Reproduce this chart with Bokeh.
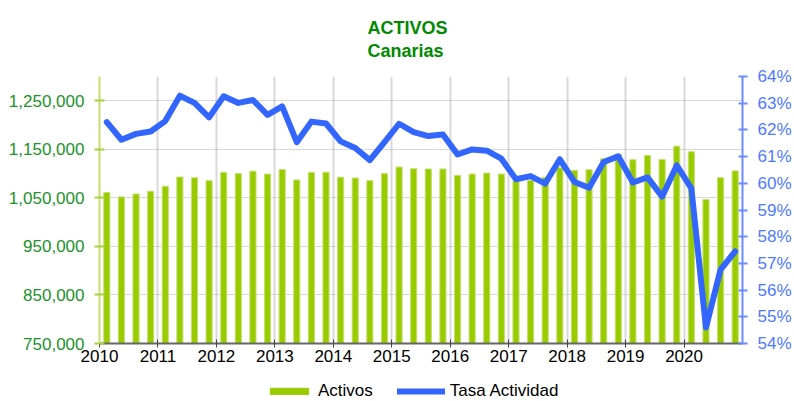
from bokeh.plotting import figure
from bokeh.layouts import column
from bokeh.models import (Range1d, LinearAxis, FixedTicker, NumeralTickFormatter,
                          PrintfTickFormatter, Legend, LegendItem, Title, ColumnDataSource)
from bokeh.embed import file_html
from bokeh.resources import INLINE

# ---- data -------------------------------------------------------------
years = [2010, 2011, 2012, 2013, 2014, 2015, 2016, 2017, 2018, 2019, 2020]
quarters = [1, 2, 3, 4]

activos = [
    1061000, 1052000, 1058000, 1063500,   # 2010
    1074000, 1093000, 1091500, 1085500,   # 2011
    1102500, 1100000, 1105000, 1099000,   # 2012
    1108500, 1087000, 1102500, 1103000,   # 2013
    1092500, 1091000, 1085500, 1100000,   # 2014
    1113500, 1110000, 1109500, 1109500,   # 2015
    1096000, 1099000, 1101000, 1099000,   # 2016
    1085000, 1086000, 1092500, 1112000,   # 2017
    1106500, 1108000, 1130500, 1140000,   # 2018
    1128500, 1137500, 1129000, 1156500,   # 2019
    1145000, 1046500, 1091500, 1105500,   # 2020
]

tasa_actividad = [
    62.29, 61.63, 61.85, 61.94,   # 2010
    62.33, 63.28, 63.01, 62.47,   # 2011
    63.26, 63.01, 63.12, 62.56,   # 2012
    62.88, 61.54, 62.31, 62.24,   # 2013
    61.57, 61.32, 60.87, 61.54,   # 2014
    62.23, 61.92, 61.77, 61.83,   # 2015
    61.08, 61.27, 61.22, 60.92,   # 2016
    60.15, 60.27, 59.99, 60.90,   # 2017
    60.05, 59.83, 60.80, 61.01,   # 2018
    60.03, 60.22, 59.50, 60.67,   # 2019
    59.81, 54.60, 56.77, 57.45,   # 2020
]

left_ticks = [750000, 850000, 950000, 1050000, 1150000, 1250000]
right_ticks = [54, 55, 56, 57, 58, 59, 60, 61, 62, 63, 64]

# ---- layout helpers ---------------------------------------------------
x = [y + (q - 0.5) / 4 for y in years for q in quarters]
src = ColumnDataSource(dict(x=x, activos=activos, tasa=tasa_actividad))

FONT = "Liberation Sans"
BAR_FILL = "#99cc00"
BAR_EDGE = "#c4e070"
LINE_COL = "#3366ff"

p = figure(width=794, height=368, output_backend="svg", toolbar_location=None,
           x_range=Range1d(2010, 2021), y_range=Range1d(750000, 1300000),
           min_border_left=99, min_border_right=49, min_border_top=74,
           min_border_bottom=25, title=None)
p.outline_line_color = None
p.background_fill_color = "white"
p.border_fill_color = "white"

p.extra_y_ranges = {"rate": Range1d(54, 64)}

# grids
p.xgrid.ticker = FixedTicker(ticks=years[1:])
p.xgrid.grid_line_color = "#d9d9d9"
p.xgrid.grid_line_width = 2
p.ygrid.ticker = FixedTicker(ticks=left_ticks[1:])
p.ygrid.grid_line_color = "#b0b0b0"
p.ygrid.grid_line_dash = "1 1"
p.ygrid.grid_line_width = 1

bars = p.vbar(x="x", top="activos", bottom=750000, width=0.105, source=src,
              fill_color=BAR_FILL, line_color=BAR_EDGE, line_width=1)
line = p.line(x="x", y="tasa", source=src, y_range_name="rate",
              line_color=LINE_COL, line_width=6, line_join="round", line_cap="round")

# x axis
xa = p.xaxis[0]
xa.ticker = FixedTicker(ticks=years)
xa.axis_line_color = "#666666"
xa.axis_line_width = 2
xa.major_tick_line_color = "#444444"
xa.major_tick_in = 4
xa.major_tick_out = 4
xa.minor_tick_line_color = None
xa.major_label_text_font = FONT
xa.major_label_text_font_size = "17px"
xa.major_label_text_color = "#000000"
xa.major_label_standoff = 2

# left axis
ya = p.yaxis[0]
ya.ticker = FixedTicker(ticks=left_ticks)
ya.formatter = NumeralTickFormatter(format="0,0")
ya.axis_line_color = "#c4e070"
ya.axis_line_width = 2
ya.major_tick_line_color = "#a8d040"
ya.major_tick_line_width = 2
ya.major_tick_in = 5
ya.major_tick_out = 5
ya.minor_tick_line_color = None
ya.major_label_text_font = FONT
ya.major_label_text_font_size = "17px"
ya.major_label_text_color = "#22922a"
ya.major_label_standoff = 10

# right axis
ra = LinearAxis(y_range_name="rate", ticker=FixedTicker(ticks=right_ticks),
                formatter=PrintfTickFormatter(format="%d%%"))
ra.axis_line_color = "#6b8cff"
ra.axis_line_width = 2
ra.major_tick_line_color = "#6b8cff"
ra.major_tick_line_width = 2
ra.major_tick_in = 4
ra.major_tick_out = 5
ra.minor_tick_line_color = None
ra.major_label_text_font = FONT
ra.major_label_text_font_size = "17px"
ra.major_label_text_color = "#4d79ff"
ra.major_label_standoff = 10
p.add_layout(ra, "right")

# title (two lines)
p.add_layout(Title(text="ACTIVOS\nCanarias", align="left", offset=268, text_font=FONT,
                   text_font_size="18px", text_font_style="bold", text_line_height=1.15,
                   text_color="#008a00", standoff=31), "above")

# legend strip below the chart (proxy renderers sit outside the strip's range)
lf = figure(width=794, height=33, output_backend="svg", toolbar_location=None,
            x_range=Range1d(0, 1), y_range=Range1d(0, 1),
            min_border_left=99, min_border_right=49, min_border_top=0,
            min_border_bottom=0, title=None)
lf.axis.visible = False
lf.grid.visible = False
lf.outline_line_color = None
lb = lf.vbar(x=[-10], top=[-10], bottom=-11, width=0.1,
             fill_color=BAR_FILL, line_color=BAR_FILL)
ll = lf.line(x=[-10, -9], y=[-10, -10], line_color=LINE_COL, line_width=6,
             line_cap="round")
legend = Legend(items=[LegendItem(label="Activos", renderers=[lb]),
                       LegendItem(label="Tasa Actividad", renderers=[ll])],
                orientation="horizontal", location=(166, 0),
                label_text_font=FONT, label_text_font_size="17px",
                label_text_color="#000000",
                glyph_width=48, glyph_height=8, spacing=24, label_standoff=5,
                border_line_color=None, background_fill_alpha=0,
                padding=0, margin=0)
lf.add_layout(legend)

layout = column(p, lf, spacing=0)
open("out.html", "w").write(file_html(layout, INLINE))
